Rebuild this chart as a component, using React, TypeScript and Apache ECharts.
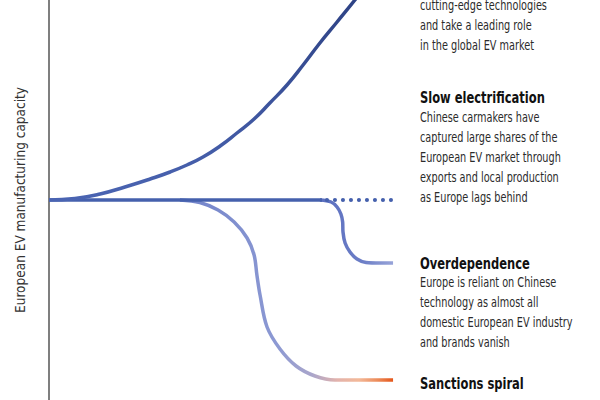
import React, { useEffect, useRef } from 'react'
import * as echarts from 'echarts'

// scenario paths (x = time, y = capacity index)
const growthPath: number[][] = [
    [0, 0], [7.4, 0.75], [14.6, 3], [21.7, 6.5], [28.9, 10.5], [34.6, 14], [39.4, 17.5],
    [44, 21.5], [48.9, 27], [53.7, 33.5], [58.6, 40.5], [63.1, 48.5], [68, 57.5],
    [72.6, 67.5], [77.4, 78.5], [82.3, 89], [87.4, 100], [92.3, 111],
]
const slowPath: number[][] = [[0, 0], [78, 0]]
const slowDottedPath: number[][] = [[79.4, 0], [98, 0]]
const overdependencePath: number[][] = [
    [77.4, 0], [80.6, -1], [82.3, -3.5], [83.4, -7], [83.9, -11], [84, -16],
    [84.6, -21.5], [86, -26], [88, -29.5], [90.6, -31.25], [94.6, -31.5], [98.3, -31.5],
]
const sanctionsPath: number[][] = [
    [37.4, 0], [43.1, -1.25], [48.3, -5], [52.9, -11], [56.6, -19], [58.6, -27.5],
    [59.4, -37.5], [60.3, -47.5], [62.3, -63.5], [66, -74.5], [70.6, -83],
    [76, -88], [81.7, -90], [98.3, -90],
]

const axisName = 'European EV manufacturing capacity'

const growthLines = ['cutting-edge technologies', 'and take a leading role', 'in the global EV market']
const slowTitle = 'Slow electrification'
const slowLines = [
    'Chinese carmakers have',
    'captured large shares of the',
    'European EV market through',
    'exports and local production',
    'as Europe lags behind',
]
const overTitle = 'Overdependence'
const overLines = [
    'Europe is reliant on Chinese',
    'technology as almost all',
    'domestic European EV industry',
    'and brands vanish',
]
const sanctionsTitle = 'Sanctions spiral'

const FONT = "'DejaVu Sans Condensed', 'DejaVu Sans', sans-serif"

const App: React.FC = () => {
    const chartRef = useRef<HTMLDivElement | null>(null)

    useEffect(() => {
        if (!chartRef.current) return
        const chart = echarts.init(chartRef.current, undefined, { renderer: 'svg' })

        const textX = 420
        const lineH = 19.8
        const narrow = 0.8 // squeeze to look like the condensed face of the original
        const texts: any[] = []
        const addTitle = (t: string, y: number) =>
            texts.push({
                type: 'text', x: textX, y, scaleX: narrow,
                style: { text: t, fill: '#111', font: `bold 16px ${FONT}`, verticalAlign: 'middle' },
            })
        const addLines = (lines: string[], y0: number) =>
            lines.forEach((t, i) =>
                texts.push({
                    type: 'text', x: textX, y: y0 + i * lineH, scaleX: narrow,
                    style: { text: t, fill: '#2b2b2b', font: `13.5px ${FONT}`, verticalAlign: 'middle' },
                })
            )
        addLines(growthLines, 5.5)
        addTitle(slowTitle, 97)
        addLines(slowLines, 118)
        addTitle(overTitle, 263)
        addLines(overLines, 283)
        addTitle(sanctionsTitle, 383)

        const base = {
            type: 'line',
            smooth: 0.35,
            symbol: 'none',
            clip: true,
            silent: true,
        }

        chart.setOption({
            animation: false,
            grid: { left: 49, top: 0, width: 350, height: 400 },
            xAxis: { type: 'value', min: 0, max: 100, show: false },
            yAxis: {
                type: 'value', min: -100, max: 100,
                axisLine: { show: true, lineStyle: { color: '#555', width: 1.5 } },
                axisTick: { show: false },
                axisLabel: { show: false },
                splitLine: { show: false },
                name: axisName,
                nameLocation: 'middle',
                nameRotate: 90,
                nameGap: 22,
                nameTextStyle: { fontFamily: FONT, fontSize: 13.5, color: '#333' },
            },
            graphic: texts,
            series: [
                {
                    ...base,
                    data: sanctionsPath,
                    lineStyle: {
                        width: 3.5,
                        color: new echarts.graphic.LinearGradient(0, 0, 1, 0, [
                            { offset: 0, color: '#7082c9' },
                            { offset: 0.45, color: '#8c99d3' },
                            { offset: 0.62, color: '#aaa6cb' },
                            { offset: 0.74, color: '#e3b3ac' },
                            { offset: 0.84, color: '#f3b898' },
                            { offset: 0.93, color: '#ec8a58' },
                            { offset: 1, color: '#e5561a' },
                        ]),
                    },
                },
                {
                    ...base,
                    data: overdependencePath,
                    lineStyle: {
                        width: 3.5,
                        color: new echarts.graphic.LinearGradient(0, 0, 1, 0, [
                            { offset: 0, color: '#5a6ebf' },
                            { offset: 0.6, color: '#6d7fc7' },
                            { offset: 1, color: '#98a4d9' },
                        ]),
                    },
                },
                {
                    ...base,
                    data: slowDottedPath,
                    smooth: false,
                    lineStyle: { width: 4, color: '#4560ad', type: [0.1, 7.9], cap: 'round' },
                },
                {
                    ...base,
                    data: slowPath,
                    smooth: false,
                    lineStyle: { width: 3.5, color: '#4560ad' },
                },
                {
                    ...base,
                    data: growthPath,
                    smooth: 0.5,
                    lineStyle: {
                        width: 3.5,
                        color: new echarts.graphic.LinearGradient(0, 1, 0, 0, [
                            { offset: 0, color: '#4a64b2' },
                            { offset: 1, color: '#2b3f80' },
                        ]),
                    },
                },
            ],
        })

        return () => {
            chart.dispose()
        }
    }, [])

    return (
        <div
            ref={chartRef}
            style={{ position: 'fixed', left: 0, top: 0, width: 600, height: 400, background: '#fff' }}
        />
    )
}

export default App
